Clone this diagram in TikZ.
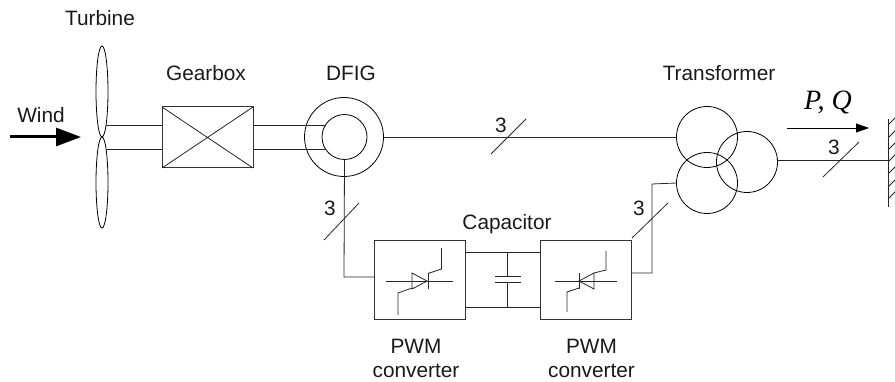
\documentclass[tikz,border=0pt]{standalone}
\usepackage{fontspec}
\setmainfont{Liberation Sans}
\newfontfamily\timesit{Liberation Serif}[ItalicFont=* Italic]
\usetikzlibrary{arrows.meta,shapes.geometric}
\tikzset{
  x=1pt,y=-1pt,
  wire/.style={draw=black!85,line width=0.8pt},
  circ/.style={circle,draw=black,line width=0.8pt,minimum size=#1,inner sep=0pt,outer sep=0pt},
  blade/.style={ellipse,draw=black,line width=0.8pt,minimum width=12pt,minimum height=91pt,inner sep=0pt,outer sep=0pt},
  conv/.style={rectangle,draw=black!80,line width=0.8pt,minimum width=91pt,minimum height=79pt,inner sep=0pt,outer sep=0pt},
  lbl/.style={font=\fontsize{20.8}{24}\selectfont,inner sep=0pt,text=black!90},
}
\begin{document}
\begin{tikzpicture}
\useasboundingbox (0,0) rectangle (895,382);
% turbine
\node[blade] (bu) at (102,91.5) {};
\node[blade] (bd) at (102,182.5) {};
\node[lbl] (tTurbine) at (100,18) {Turbine};
% wind
\node[lbl] (tWind) at (41,115) {Wind};
\coordinate (w0) at (10,137); \coordinate (w1) at (81,137);
\draw[line width=3pt,-{Triangle[length=25pt,width=18pt]}] (w0) -- (w1);
% gearbox
\node[rectangle,draw=black!80,line width=1pt,minimum width=91pt,minimum height=61pt,inner sep=0,outer sep=0] (gb) at (207.5,137.5) {};
\draw[wire] (gb.north west) -- (gb.south east) (gb.north east) -- (gb.south west);
\node[lbl] (tGear) at (206,73) {Gearbox};
\coordinate (s1) at (106,125); \coordinate (s2) at (106,149);
\draw[wire] (s1) -- (s1-|gb.west) (s2) -- (s2-|gb.west);
% DFIG
\node[circ=79pt] (go) at (344,137) {};
\node[circ=45pt] (gi) at (344.5,137) {};
\node[lbl] (tDFIG) at (351,73) {DFIG};
\coordinate (r1) at (325,125); \coordinate (r2) at (325,149);
\draw[wire] (s1-|gb.east) -- (r1) (s2-|gb.east) -- (r2);
% transformer
\node[circ=61pt] (t1) at (707,137) {};
\node[circ=61pt] (t2) at (707,183) {};
\node[circ=61pt] (t3) at (747,162) {};
\node[lbl] (tTrans) at (719,73) {Transformer};
\draw[wire] (go.east) -- (t1.west);
\coordinate (a1) at (491,154); \coordinate (a2) at (526,119);
\draw[wire] (a1) -- (a2);
\node[lbl] (n1) at (501,125) {3};
% converters
\node[conv] (c1) at (419.5,279.5) {};
\node[conv] (c2) at (586,279.5) {};
\node[lbl] (tP1) at (416,346) {PWM};
\node[lbl] (tC1) at (416,371) {converter};
\node[lbl] (tP2) at (591.5,346) {PWM};
\node[lbl] (tC2) at (591.5,371) {converter};
\node[lbl] (tCap) at (507,224) {Capacitor};
% rotor feed
\coordinate (k1) at (344,277);
\draw[wire] (gi.south) -- (k1) -- (k1-|c1.west);
\coordinate (b1) at (324,240); \coordinate (b2) at (359,203);
\draw[wire] (b1) -- (b2);
\node[lbl] (n2) at (330,208) {3};
% dc link
\coordinate (d1) at (465,252); \coordinate (d2) at (465,307);
\draw[wire,line width=0.9pt] (d1) -- (d1-|c2.west) (d2) -- (d2-|c2.west);
\coordinate (cap1) at (507,277); \coordinate (cap2) at (507,283);
\draw[wire] (d1-|cap1) -- (cap1) (cap2) -- (d2-|cap2);
\draw[wire,line width=1pt] (495,277) -- (521,277) (495,283) -- (521,283);
% left thyristor
\draw[wire] (386,281) -- (453,281);
\draw[wire] (412,273) -- (412,289) -- (427,281) -- cycle;
\draw[wire] (428,273) -- (428,289);
\draw[wire] (428,273.5) -- (441.5,269) -- (441.5,248);
\draw[wire] (412,288) -- (398,293) -- (398,315);
% right thyristor
\draw[wire] (555,281) -- (617,281);
\draw[wire] (594,273) -- (594,289) -- (579,281) -- cycle;
\draw[wire] (579,273) -- (579,289);
\draw[wire] (594,273) -- (606,270) -- (606,251);
\draw[wire] (579,288) -- (567,292) -- (567,312);
% grid side converter to transformer
\coordinate (k2) at (652,273);
\draw[wire] (k2-|c2.east) -- (k2) -- (652,184) -- (t2.west);
\coordinate (e1) at (632,238); \coordinate (e2) at (668,203);
\draw[wire] (e1) -- (e2);
\node[lbl] (n3) at (639,208) {3};
% output
\coordinate (bt) at (888,119); \coordinate (bb) at (888,207);
\coordinate (o0) at (777.5,160);
\draw[wire] (bt) -- (bb);
\draw[wire] (o0) -- (o0-|bt);
\foreach \y in {125,138,150,162,174,187,199}
  \draw[wire] (888,\y) -- (895,\y-7);
\coordinate (g1) at (823,177); \coordinate (g2) at (859,142);
\draw[wire] (g1) -- (g2);
\node[lbl] (n4) at (834,147) {3};
\coordinate (p0) at (787,128); \coordinate (p1) at (869,128);
\draw[line width=0.8pt,-{Triangle[length=13pt,width=9pt]}] (p0) -- (p1);
\node[font=\fontsize{28}{32}\selectfont\timesit\itshape,inner sep=0pt] (tPQ) at (828,103) {P, Q};
\end{tikzpicture}
\end{document}
